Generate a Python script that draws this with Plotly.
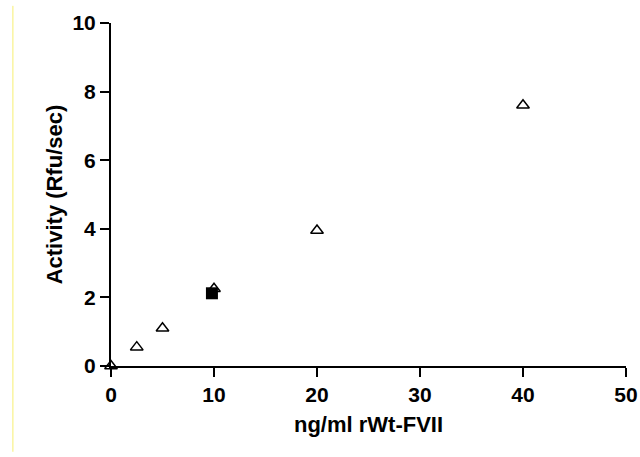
import plotly.graph_objects as go

tri_x = [0, 2.5, 5, 10, 20, 40]
tri_y = [0, 0.55, 1.1, 2.25, 3.95, 7.6]
sq_x = [9.8]
sq_y = [2.12]

x_ticks = [0, 10, 20, 30, 40, 50]
y_ticks = [0, 2, 4, 6, 8, 10]

fig = go.Figure()
fig.add_trace(go.Scatter(x=tri_x, y=tri_y, mode="markers", cliponaxis=False,
                         marker=dict(symbol="triangle-up-open", size=11, color="black",
                                     line=dict(width=1.5, color="black")),
                         showlegend=False))
fig.add_trace(go.Scatter(x=sq_x, y=sq_y, mode="markers", cliponaxis=False,
                         marker=dict(symbol="square", size=12, color="black"),
                         showlegend=False))

fig.add_shape(type="line", xref="paper", yref="paper", x0=-0.1905, x1=-0.1905, y0=-0.25, y1=1.05,
              line=dict(color="#f7ef70", width=1))

font = dict(family="Liberation Sans, Arial, sans-serif", color="black")
fig.update_layout(
    width=640, height=457,
    margin=dict(l=111, r=14, t=23, b=91),
    paper_bgcolor="white", plot_bgcolor="white",
    font=font,
    xaxis=dict(range=[0, 50], tickvals=x_ticks, ticktext=[f"<b>{v}</b>" for v in x_ticks],
               showline=True, linecolor="black", linewidth=2, ticks="outside", automargin=False,
               ticklen=9, tickwidth=2, tickcolor="black", showgrid=False, zeroline=False,
               tickfont=dict(size=21, **font),
               title=dict(text="<b>ng/ml rWt-FVII</b>", font=dict(size=22, **font), standoff=11)),
    yaxis=dict(range=[0, 10], tickvals=y_ticks, ticktext=[f"<b>{v}</b>" for v in y_ticks],
               showline=True, linecolor="black", linewidth=2, ticks="outside", automargin=False,
               ticklen=9, tickwidth=2, tickcolor="black", showgrid=False, zeroline=False,
               tickfont=dict(size=21, **font),
               title=dict(text="<b>Activity (Rfu/sec)</b>", font=dict(size=22, **font), standoff=4)),
)
fig.write_html("out.html")
